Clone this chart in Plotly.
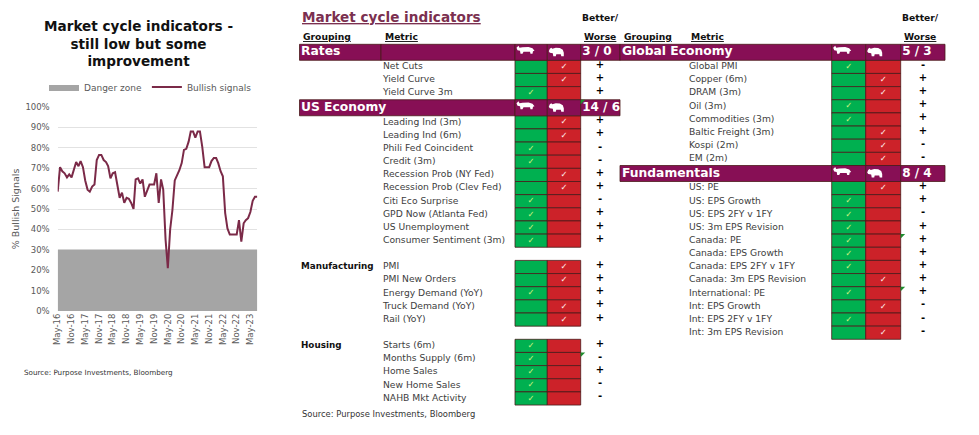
import pandas as pd
import plotly.graph_objects as go

# ---------------------------------------------------------------------------
# Line chart data: share of bullish signals, monthly from May-16
# ---------------------------------------------------------------------------
start_month = "2016-05-01"
bullish_pct = [58.5, 70.5, 68.5, 67.5, 65.5, 67, 65.5, 69, 73, 71, 73.5, 70.5,
               64, 59.5, 58.5, 61, 62, 74, 76.5, 76.5, 74, 73, 71, 65,
               67.5, 68, 62, 55.5, 58, 53, 55.5, 55, 53, 50, 64.5, 65,
               62.5, 64.5, 56, 59, 62, 62, 62, 67.5, 53, 64.5, 59.5, 35,
               21, 40, 49.5, 64, 66.5, 69, 72.5, 79, 79.5, 83, 88, 88,
               85, 88, 88, 80.5, 70.5, 70.5, 70.5, 73.5, 75, 75, 72.5, 68.5,
               66, 48, 40.5, 37.5, 37.5, 37.5, 37.5, 44.5, 34, 43, 44.5, 45.5,
               48.5, 54, 56, 56]
danger_level = 30

months = pd.date_range(start_month, periods=len(bullish_pct), freq="MS")

# ---------------------------------------------------------------------------
# Table data (bull = 1 -> tick in bull column, 0 -> tick in bear column)
# ---------------------------------------------------------------------------
rates_metrics = ["Net Cuts", "Yield Curve", "Yield Curve 3m"]
rates_bull = [0, 0, 1]
rates_sign = ["+", "+", "+"]

us_metrics = ["Leading Ind (3m)", "Leading Ind (6m)", "Phili Fed Coincident", "Credit (3m)",
              "Recession Prob (NY Fed)", "Recession Prob (Clev Fed)", "Citi Eco Surprise",
              "GPD Now (Atlanta Fed)", "US Unemployment", "Consumer Sentiment (3m)"]
us_bull = [0, 0, 1, 1, 0, 0, 1, 1, 1, 1]
us_sign = ["+", "+", "-", "-", "+", "+", "-", "+", "+", "+"]

mfg_metrics = ["PMI", "PMI New Orders", "Energy Demand (YoY)", "Truck Demand (YoY)", "Rail (YoY)"]
mfg_bull = [0, 0, 1, 0, 0]
mfg_sign = ["+", "+", "+", "+", "+"]

housing_metrics = ["Starts (6m)", "Months Supply (6m)", "Home Sales", "New Home Sales", "NAHB Mkt Activity"]
housing_bull = [1, 1, 1, 1, 1]
housing_sign = ["+", "-", "+", "-", "-"]

global_metrics = ["Global PMI", "Copper (6m)", "DRAM (3m)", "Oil (3m)", "Commodities (3m)",
                  "Baltic Freight (3m)", "Kospi (2m)", "EM (2m)"]
global_bull = [1, 0, 0, 1, 1, 0, 0, 0]
global_sign = ["-", "+", "+", "+", "+", "+", "-", "-"]

fund_metrics = ["US: PE", "US: EPS Growth", "US: EPS 2FY v 1FY", "US: 3m EPS Revision",
                "Canada: PE", "Canada: EPS Growth", "Canada: EPS 2FY v 1FY", "Canada: 3m EPS Revision",
                "International: PE", "Int: EPS Growth", "Int: EPS 2FY v 1FY", "Int: 3m EPS Revision"]
fund_bull = [0, 1, 1, 1, 1, 1, 1, 0, 1, 0, 1, 0]
fund_sign = ["+", "+", "-", "+", "+", "+", "+", "+", "+", "-", "-", "-"]

# cells carrying an excel comment marker
noted_metrics = ["Months Supply (6m)", "Canada: PE", "International: PE"]

left_table = [("Rates", "header", rates_metrics, rates_bull, rates_sign),
              ("US Economy", "header", us_metrics, us_bull, us_sign),
              ("Manufacturing", "group", mfg_metrics, mfg_bull, mfg_sign),
              ("Housing", "group", housing_metrics, housing_bull, housing_sign)]
right_table = [("Global Economy", "header", global_metrics, global_bull, global_sign),
               ("Fundamentals", "header", fund_metrics, fund_bull, fund_sign)]

# colours
PURPLE = "#870F55"
GREEN = "#00B050"
RED = "#CC2229"
BORDER = "#4A1A1A"
TXT = "#404040"
LINE = "#7B2A48"
FONT = "DejaVu Sans"

# page is 979x435; the html body keeps an 8px margin, so the figure is drawn a bit smaller
W, H = 979, 435
OFF = 8
FW, FH = W - OFF, H - OFF
ROW = 13.15
HEAD = 16
TOP = 44.3

# column layout in page pixels
left_cols = dict(bar_l=299.5, group_x=301, metric_x=383, divider=381, bull_l=515, bear_l=547.3,
                 bear_r=580.7, bar_r=620, sign_x=600)
right_cols = dict(bar_l=620, group_x=622, metric_x=689, divider=None, bull_l=831.7, bear_l=865.7,
                  bear_r=900.7, bar_r=945, sign_x=923)


def px_x(p):
    return (p - OFF) / FW


def px_y(p):
    return (H - p) / FH


fig = go.Figure()

# ---------------------------------------------------------------------------
# Line chart
# ---------------------------------------------------------------------------
fig.add_trace(go.Scatter(x=months, y=[danger_level] * len(months), name="Danger zone",
                         mode="lines", line=dict(width=0, color="#A5A5A5"),
                         fill="tozeroy", fillcolor="#A5A5A5"))
fig.add_trace(go.Scatter(x=months, y=bullish_pct, name="Bullish signals", mode="lines",
                         line=dict(color=LINE, width=2)))

# ---------------------------------------------------------------------------
# Table
# ---------------------------------------------------------------------------
cells = {"green": ([], [], [], []), "red": ([], [], [], []), "purple": ([], [], [], [])}
texts = []  # (x, y, text, size, color, position)
notes_x, notes_y = [], []
icons = []


def add_cell(kind, left, right, yc, h):
    c = cells[kind]
    c[0].append(yc)
    c[1].append(right - left)
    c[2].append(left)
    c[3].append(h)


def build(table, cols):
    y = TOP
    for i, (name, kind, metrics, bull, sign) in enumerate(table):
        if kind == "header":
            # count of better/worse over this header and its sub-groups
            signs = list(sign)
            for nxt in table[i + 1:]:
                if nxt[1] == "header":
                    break
                signs += nxt[4]
            count = f"{signs.count('+')} / {signs.count('-')}"
            yc = y + HEAD / 2
            edges = [cols["bar_l"]]
            if cols["divider"]:
                edges.append(cols["divider"])
            edges += [cols["bull_l"], cols["bear_l"], cols["bear_r"], cols["bar_r"]]
            for a, b in zip(edges[:-1], edges[1:]):
                add_cell("purple", a, b, yc, HEAD)
            texts.append((cols["group_x"], yc, f"<b>{name}</b>", 12.3, "white", "middle right"))
            texts.append((cols["bear_r"] + 1.5, yc, f"<b>{count}</b>", 12, "white", "middle right"))
            icons.append(("bull", cols["bull_l"] + 1.5, y + 1.5))
            icons.append(("bear", cols["bear_l"] + 1.5, y + 3))
            y += HEAD
        else:
            y += ROW
            texts.append((cols["group_x"], y + ROW / 2, f"<b>{name}</b>", 8.8, "#111111", "middle right"))
        for m, b, s in zip(metrics, bull, sign):
            yc = y + ROW / 2
            add_cell("green", cols["bull_l"], cols["bear_l"], yc, ROW)
            add_cell("red", cols["bear_l"], cols["bear_r"], yc, ROW)
            texts.append((cols["metric_x"], yc, m, 9.2, TXT, "middle right"))
            if b:
                texts.append(((cols["bull_l"] + cols["bear_l"]) / 2, yc, "✓", 8.5, "#C8F27E", "middle center"))
            else:
                texts.append(((cols["bear_l"] + cols["bear_r"]) / 2, yc, "✓", 8.5, "#FFEDED", "middle center"))
            texts.append((cols["sign_x"], yc - 1.5, f"<b>{s}</b>", 10, "black", "middle center"))
            if m in noted_metrics:
                notes_x.append(cols["bear_r"] + 1.5)
                notes_y.append(y + 1.5)
            y += ROW


build(left_table, left_cols)
build(right_table, right_cols)

for kind, color in [("green", GREEN), ("red", RED), ("purple", PURPLE)]:
    yc, w, base, h = cells[kind]
    fig.add_trace(go.Bar(y=yc, x=w, base=base, width=h, orientation="h", marker_color=color,
                         marker_line=dict(color=BORDER, width=0.8), xaxis="x2", yaxis="y2",
                         showlegend=False, hoverinfo="skip"))

# group the texts into a few scatter traces by style
styles = {}
for x, y, t, size, color, pos in texts:
    s = styles.setdefault((size, color, pos), ([], [], []))
    s[0].append(x)
    s[1].append(y)
    s[2].append(t)
for (size, color, pos), (xs, ys, ts) in styles.items():
    fig.add_trace(go.Scatter(x=xs, y=ys, text=ts, mode="text", textposition=pos,
                             textfont=dict(family=FONT, size=size, color=color),
                             xaxis="x2", yaxis="y2", showlegend=False, hoverinfo="skip"))

# comment markers
notes_x.append(left_cols["bear_r"] + 1.5)
notes_y.append(TOP + HEAD + 3 * ROW + 1.5)
fig.add_trace(go.Scatter(x=notes_x, y=notes_y, mode="markers",
                         marker=dict(symbol="triangle-nw", size=5, color="#1E8C2E"),
                         xaxis="x2", yaxis="y2", showlegend=False, hoverinfo="skip"))

# bull / bear silhouettes
bull_pts = [(0, 2), (2, 0), (3, 2), (6, 1.5), (12, 1.2), (16, 2.5), (18, 5), (16.5, 5.5), (16, 8),
            (14, 8), (13.5, 6), (7, 6), (6, 8), (4, 8), (3.5, 5), (1, 4.5)]
bear_pts = [(0, 4), (1, 1.5), (2.5, 0.5), (3.5, 1.5), (7, 0.5), (11, 0.8), (14, 2.5), (15, 5.5),
            (15, 9), (12.5, 9), (12, 7), (7.5, 7), (7, 9), (4.5, 9), (4, 6), (1, 5.5)]
shapes = []
for kind, x0, y0 in icons:
    pts = bull_pts if kind == "bull" else bear_pts
    path = "M " + " L ".join(f"{x0 + dx:.1f},{y0 + dy:.1f}" for dx, dy in pts) + " Z"
    shapes.append(dict(type="path", path=path, xref="x2", yref="y2", fillcolor="white",
                       line=dict(width=0)))

# headings
ann = []


def label(x, y, text, size, color="#111111", anchor="left"):
    ann.append(dict(x=x, y=y, xref="x2", yref="y2", text=text, showarrow=False, xanchor=anchor,
                    yanchor="middle", font=dict(family=FONT, size=size, color=color)))


label(300, 17, "<b><u>Market cycle indicators</u></b>", 13.6, "#7B3050")
for cols in (left_cols, right_cols):
    label(cols["group_x"], 36, "<b><u>Grouping</u></b>", 9.2)
    label(cols["metric_x"], 36, "<b><u>Metric</u></b>", 9.2)
    label(cols["bear_r"] + 19.5, 17, "<b>Better/</b>", 9.2, anchor="center")
    label(cols["bear_r"] + 19.5, 36, "<b><u>Worse</u></b>", 9.2, anchor="center")
label(300, 414, "Source: Purpose Investments, Bloomberg", 8.4, "#333333")
label(22, 372, "Source: Purpose Investments, Bloomberg", 7.2, "#333333")
label(138, 43, "<b>Market cycle indicators -<br>still low but some<br>improvement</b>", 13.6, "#111111",
      anchor="center")

fig.update_layout(
    width=FW, height=FH,
    margin=dict(l=0, r=0, t=0, b=0),
    paper_bgcolor="white", plot_bgcolor="rgba(0,0,0,0)",
    barmode="overlay", hovermode=False,
    font=dict(family=FONT, color="#595959"),
    shapes=shapes, annotations=ann,
    legend=dict(orientation="h", x=px_x(44), y=px_y(87), yanchor="middle", font=dict(size=9, color="#595959"),
                itemwidth=30, bgcolor="rgba(0,0,0,0)"),
    xaxis=dict(domain=[px_x(57.7), px_x(257.3)], type="date", range=[months[0], months[-1]],
               tickformat="%b-%y", dtick="M6", tick0=start_month, tickangle=-90, automargin=False,
               showgrid=False, zeroline=False, tickfont=dict(size=8.5, color="#595959"), ticks=""),
    yaxis=dict(domain=[px_y(311), px_y(107)], range=[0, 100], dtick=10, ticksuffix="%", automargin=False,
               gridcolor="#E2E2E2", zeroline=False, tickfont=dict(size=8.5, color="#595959"),
               ticklabelstandoff=7,
               title=dict(text="% Bullish Signals", font=dict(size=9.5, color="#595959"), standoff=4)),
    xaxis2=dict(domain=[0, 1], range=[OFF, W], visible=False, anchor="y2", automargin=False),
    yaxis2=dict(domain=[0, 1], range=[H, OFF], visible=False, anchor="x2", automargin=False),
)

fig.write_html("out.html")
